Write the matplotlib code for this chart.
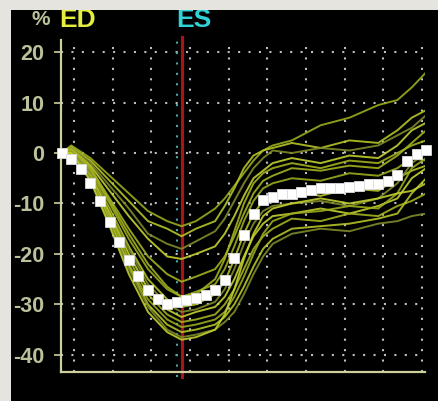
import matplotlib.pyplot as plt
from matplotlib.patches import Rectangle

# frame index of each key point (strain traces) and the mean curve (white squares)
frames = [0, 1, 3, 5, 7, 9, 11, 12.5, 14, 16, 17, 18, 19, 20, 21, 22, 24, 27, 30, 33, 35, 36.5, 38]

traces = [
    [0, 1.5, -1, -4.5, -8, -11.5, -13.5, -14.5, -13.5, -11, -9, -6.5, -4, -1.5, 0.5, 1.5, 2.5, 5.5, 7, 9.5, 10.5, 13, 16],
    [0, 1.2, -1.5, -5.5, -9.5, -13.5, -15, -16.5, -15, -13.5, -10.5, -7, -3, -0.5, 0.5, 1, 2, 1, 2.5, 2, 4.5, 7, 8.5],
    [0, 1, -2, -6.5, -11, -16, -18, -19, -17.5, -15.5, -13, -9.5, -6, -3, -1, 0.5, 0, 1, 0.5, 1.5, 3.5, 5, 7.5],
    [0, 0.8, -2.5, -7.5, -12.5, -17, -20.5, -21, -20, -18.5, -16, -12.5, -8.5, -5, -3.5, -2, -1, -2, -0.5, -1, 1.5, 4.5, 6],
    [0, 0.5, -3, -9, -15, -20.5, -24, -25.5, -24.5, -23, -20.5, -16.5, -12, -8, -5.5, -4.5, -3, -3.5, -2.5, -3, -0.5, 2, 4.5],
    [0, 0.5, -3.5, -10, -17, -23, -27, -28.5, -27.5, -26, -23, -18.5, -13.5, -9.5, -7, -6, -5, -5.5, -4, -4.5, -3, -1, -1.5],
    [0, 0.3, -4, -11, -18.5, -25, -29, -30.5, -30, -28, -25.5, -21, -16, -12, -9.5, -8.5, -7.5, -8.5, -7, -7.5, -5, -3.5, -2.5],
    [0, 0.3, -4, -11.5, -19, -26, -30, -31.5, -31, -29.5, -27, -23, -18, -14, -11.5, -10.5, -10, -9.5, -10.5, -9, -6, -2, 0],
    [0, 0, -4.5, -12, -20, -27, -31, -32.5, -31.5, -30.5, -28.5, -25, -20.5, -16.5, -14, -12.5, -12, -11, -12, -10.5, -9, -5, -3],
    [0, 0, -4.5, -12.5, -21, -28, -32, -33.5, -33, -32, -30, -27, -23, -19, -16.5, -15, -13, -13.5, -12, -12.5, -10.5, -9.5, -8],
    [0, 0.2, -5, -13, -22, -29, -33, -34.5, -34, -33, -31.5, -28.5, -24.5, -20, -16, -13.5, -12, -11.5, -10.5, -11, -8, -3, -1],
    [0, 0, -5, -13.5, -22.5, -30, -34, -35.5, -35, -34, -32.5, -30, -26.5, -22.5, -19, -17, -15, -14.5, -14, -13, -12, -8, -5],
    [0, 0, -5, -14, -23, -30.5, -35, -36.5, -36, -35, -33.5, -31.5, -28, -24, -20.5, -18, -16, -15, -15.5, -14, -13.5, -12.5, -12],
    [0, 0, -5.5, -14.5, -24, -31.5, -35.5, -37, -36.5, -35, -32, -27, -21, -16, -12.5, -11, -10, -9, -10, -9, -8, -7.5, -6],
    [0, 0.8, -3, -9.5, -16, -22, -26.5, -28.5, -28, -25, -21, -15.5, -10, -6, -4, -3, -2, -3, -1.5, -2, 0, 1.5, 2.5],
]

mean_curve = [0, -1.2, -3.2, -5.9, -9.5, -13.7, -17.7, -21.3, -24.4, -27.1, -29.0, -29.9, -29.6,
              -29.1, -28.8, -28.2, -27.2, -25.1, -20.9, -16.2, -12.1, -9.4, -8.7, -8.1, -8.1,
              -7.7, -7.3, -7.0, -7.0, -6.9, -6.7, -6.5, -6.2, -6.2, -5.5, -4.4, -1.5, -0.1, 0.5]

y_ticks = [20, 10, 0, -10, -20, -30, -40]
y_labels = ["20", "10", "0", "-10", "-20", "-30", "-40"]

es_frame = 12.55
grid_x = [1.3 + 4.03 * k for k in range(10)]

fig = plt.figure(figsize=(4.38, 4.01), dpi=100, facecolor="#e6e4df")
fig.patches.append(Rectangle((0, 0), 1, 1, transform=fig.transFigure,
                             facecolor="black", edgecolor="none", zorder=-5))

ax = fig.add_axes([61 / 438, 1 - 372 / 401, (425 - 61) / 438, (372 - 40) / 401])
ax.set_facecolor("black")
ax.set_xlim(-0.07, 37.88)
ax.set_ylim(-43.4, 22.4)

# dotted grid
dots = (0, (1, 4))
ax.hlines(y_ticks, -0.07, grid_x[-1], colors="#bdbdbd", linestyles=dots, lw=1.5, zorder=1)
ax.vlines(grid_x, -43.4, 22.4, colors="#bdbdbd", linestyles=dots, lw=1.5, zorder=1)

# ES markers
ax.axvline(es_frame - 0.55, color="#4fa6a6", ls=dots, lw=1.5, ymin=-0.015, zorder=2, clip_on=False)
ax.axvline(es_frame, color="#a81515", lw=2.3, ymin=-0.015, ymax=1.01, zorder=2, clip_on=False)

colors = ["#9aab1c", "#b5c426", "#7f8a2a", "#c3d030", "#a3b21f"]
for k, tr in enumerate(traces):
    ax.plot(frames, tr, color=colors[k % len(colors)], lw=1.4, alpha=0.9, zorder=3)

ax.plot(range(len(mean_curve)), mean_curve, ls="none", marker="s", ms=7.5,
        mfc="white", mec="#dddddd", mew=0.6, zorder=5, clip_on=False)

for s in ["top", "right"]:
    ax.spines[s].set_visible(False)
for s in ["left", "bottom"]:
    ax.spines[s].set_color("#cdd09c")
    ax.spines[s].set_linewidth(1.6)
ax.set_xticks([])
ax.set_yticks(y_ticks)
ax.set_yticklabels(y_labels)
ax.tick_params(axis="y", colors="#cdd09c", length=5, width=1.2, pad=7,
               labelcolor="#b9c29a", labelsize=15.5)
for lab in ax.get_yticklabels():
    lab.set_family("Liberation Sans")
    lab.set_weight("bold")

font = "Liberation Sans"
fig.text(31 / 438, 1 - 10 / 401, "%", color="#b9c29a", fontsize=15, weight="bold",
         family=font, va="top", zorder=10)
fig.text(59 / 438, 1 - 8 / 401, "ED", color="#e4ee3c", fontsize=19, weight="bold",
         family=font, va="top", zorder=10)
fig.text(176 / 438, 1 - 8 / 401, "ES", color="#2fd3d6", fontsize=19, weight="bold",
         family=font, va="top", zorder=10)

# light border at top and left
fig.patches.append(Rectangle((0, 1 - 10 / 401), 1, 10 / 401, transform=fig.transFigure,
                             facecolor="#e6e4df", edgecolor="none", zorder=20))
fig.patches.append(Rectangle((0, 0), 11 / 438, 1, transform=fig.transFigure,
                             facecolor="#e6e4df", edgecolor="none", zorder=20))

fig.savefig("out.png", dpi=100, facecolor=fig.get_facecolor())
